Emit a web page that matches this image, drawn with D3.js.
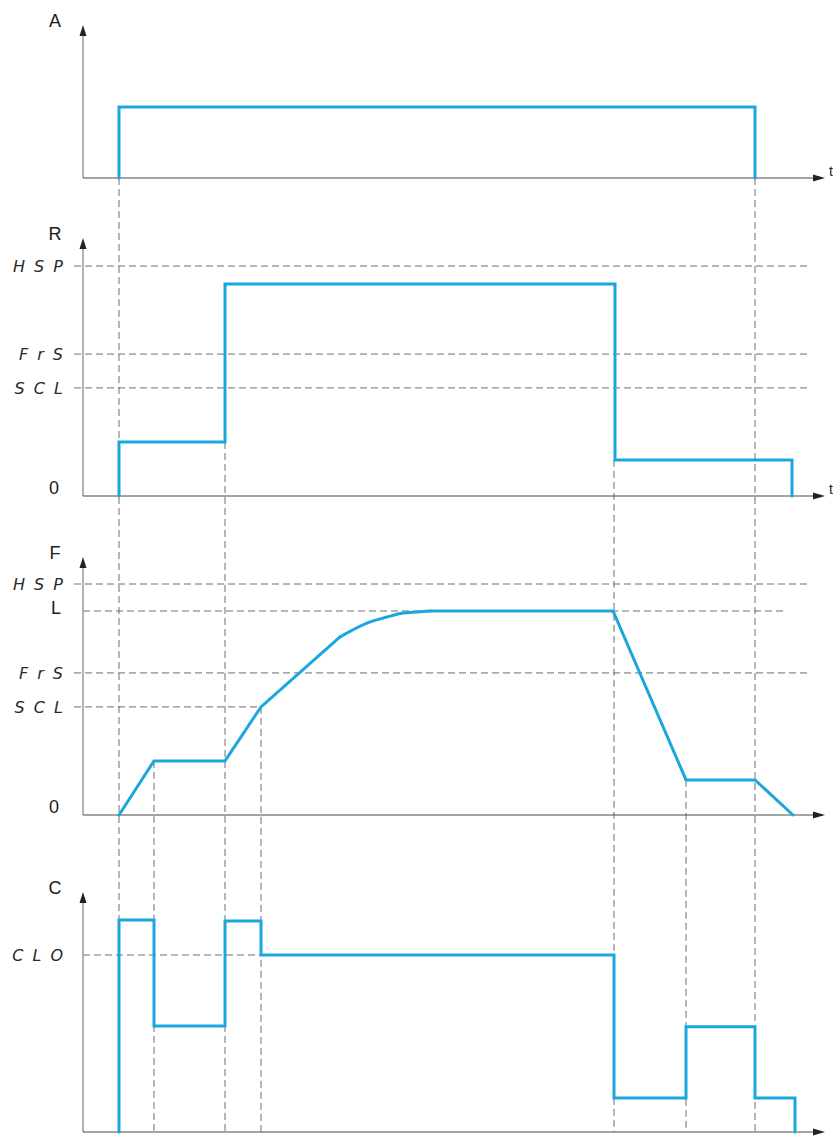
<!DOCTYPE html>
<html>
<head>
<meta charset="utf-8">
<script src="https://cdn.jsdelivr.net/npm/d3@7/dist/d3.min.js"></script>
<style>
  html, body { margin: 0; padding: 0; background: #fff; }
  svg { display: block; }
  .axis-name { font-family: "Liberation Sans", Arial, sans-serif; font-size: 18px; fill: #1a1a1a; }
  .seg { font-family: "DejaVu Sans", sans-serif; font-style: italic; font-size: 16px; fill: #2a2a2a; letter-spacing: 2px; }
</style>
</head>
<body>
<script>
// ---- Time axis (common to all four traces), arbitrary units ----
const timeMax = 74;

// A : run command
const aTime  = [3.6, 3.6, 67.2, 67.2];
const aValue = [0, 1, 1, 0];

// R : speed reference
const rTime  = [3.6, 3.6, 14.2, 14.2, 53.2, 53.2, 70.9, 70.9];
const rValue = [0, 23.5, 23.5, 92.2, 92.2, 15.7, 15.7, 0];
const rLevelNames  = ["H S P", "F r S", "S C L"];
const rLevelValues = [100, 61.7, 47];

// F : output frequency (ramp, rounded approach to L, plateau, decel)
const fTime  = [3.6, 7.1, 14.2, 17.8, 25.7, 28.4, 30.4, 32.0, 33.4, 34.7, 53.0, 60.3, 67.2, 71.0];
const fValue = [0, 23.4, 23.4, 46.8, 77.1, 83.1, 85.7, 87.4, 87.9, 88.3, 88.3, 15.2, 15.2, 0];
const fBendStart = 4, fBendEnd = 9;   // indices of the rounded section
const fLevelNames  = ["H S P", "L", "F r S", "S C L"];
const fLevelValues = [100, 88.3, 61.5, 46.8];

// C : motor current
const cTime  = [3.6, 3.6, 7.1, 7.1, 14.2, 14.2, 17.8, 17.8, 53.1, 53.1, 60.3, 60.3, 67.2, 67.2, 71.2, 71.2];
const cValue = [0, 119.8, 119.8, 59.9, 59.9, 119.2, 119.2, 100, 100, 19.2, 19.2, 59.5, 59.5, 19.2, 19.2, 0];
const cLevelNames  = ["C L O"];
const cLevelValues = [100];

// vertical guide lines: time, trace and value where they start
const guideTime   = [3.6, 7.1, 14.2, 17.8, 53.1, 60.3, 67.2];
const guideTrace  = ["A", "F", "R", "F", "R", "F", "A"];
const guideValue  = [0, 23.4, 23.5, 46.8, 15.7, 15.2, 0];

const W = 833, H = 1137;
const blue = "#1aa7dd";
const svg = d3.select("body").append("svg").attr("width", W).attr("height", H);

const x = d3.scaleLinear().domain([0, timeMax]).range([83, 823]);

// one y scale per trace
const panels = {
  A: { name: "A", y: d3.scaleLinear().domain([0, 1]).range([178, 107]),   top: 25,  t: true,  levels: [], names: [] },
  R: { name: "R", y: d3.scaleLinear().domain([0, 100]).range([496, 266]), top: 238, t: true,  levels: rLevelValues, names: rLevelNames },
  F: { name: "F", y: d3.scaleLinear().domain([0, 100]).range([815, 584]), top: 557, t: false, levels: fLevelValues, names: fLevelNames },
  C: { name: "C", y: d3.scaleLinear().domain([0, 100]).range([1132, 955]), top: 892, t: false, levels: cLevelValues, names: cLevelNames }
};

const gGuides = svg.append("g");
const gAxes = svg.append("g");
const gSignals = svg.append("g");

// vertical dashed guides down to the bottom trace baseline
guideTime.forEach((t, i) => {
  gGuides.append("line")
    .attr("x1", x(t)).attr("x2", x(t))
    .attr("y1", panels[guideTrace[i]].y(guideValue[i]))
    .attr("y2", panels.C.y(0))
    .attr("stroke", "#6e6e6e").attr("stroke-width", 1)
    .attr("stroke-dasharray", "7,4");
});

function hDash(x1, x2, yv) {
  gGuides.append("line")
    .attr("x1", x1).attr("x2", x2).attr("y1", yv).attr("y2", yv)
    .attr("stroke", "#6e6e6e").attr("stroke-width", 1)
    .attr("stroke-dasharray", "7,4");
}

// level lines and their names
Object.values(panels).forEach(p => {
  p.levels.forEach((v, i) => {
    const nm = p.names[i];
    const yy = p.y(v);
    let x1 = 74, x2 = 808;
    if (nm === "L") { x1 = 83; x2 = 785; }
    if (p.name === "F" && nm === "S C L") { x2 = x(17.8); }
    if (nm === "C L O") { x1 = 83; x2 = x(53.1); }
    hDash(x1, x2, yy);
    if (nm === "L") {
      svg.append("text").attr("class", "axis-name")
        .attr("x", 56).attr("y", yy + 3).attr("text-anchor", "middle").text(nm);
    } else {
      svg.append("text").attr("class", "seg")
        .attr("x", 65).attr("y", yy + 6).attr("text-anchor", "end").text(nm);
    }
  });
});

// axes with arrowheads
Object.values(panels).forEach(p => {
  const y0 = p.y(0);
  gAxes.append("line").attr("x1", 83).attr("x2", 83).attr("y1", y0).attr("y2", p.top + 8)
    .attr("stroke", "#8a8a8a").attr("stroke-width", 1.3);
  gAxes.append("path")
    .attr("d", `M83,${p.top} L79.5,${p.top + 11} L86.5,${p.top + 11} Z`)
    .attr("fill", "#222");
  gAxes.append("line").attr("x1", 83).attr("x2", 816).attr("y1", y0).attr("y2", y0)
    .attr("stroke", "#4a4a4a").attr("stroke-width", 1.2);
  gAxes.append("path")
    .attr("d", `M825,${y0} L813,${y0 - 3.5} L813,${y0 + 3.5} Z`)
    .attr("fill", "#222");
  svg.append("text").attr("class", "axis-name")
    .attr("x", 55).attr("y", p.top + 2).attr("text-anchor", "middle").text(p.name);
  if (p.t) {
    svg.append("text").attr("font-family", "Liberation Sans, Arial, sans-serif")
      .attr("font-size", 14).attr("fill", "#222")
      .attr("x", 829).attr("y", y0 - 2).text("t");
  }
});

// zero labels for R and F
["R", "F"].forEach(k => {
  svg.append("text").attr("class", "axis-name")
    .attr("x", 54).attr("y", panels[k].y(0) - 2).attr("text-anchor", "middle").text("0");
});

// signal traces
function trace(times, values, p, curve) {
  const line = d3.line().curve(curve || d3.curveLinear)
    .x(d => x(d[0])).y(d => p.y(d[1]));
  gSignals.append("path")
    .attr("d", line(times.map((t, i) => [t, values[i]])))
    .attr("fill", "none").attr("stroke", blue).attr("stroke-width", 3)
    .attr("stroke-linejoin", "miter").attr("stroke-linecap", "round");
}
trace(aTime, aValue, panels.A);
trace(rTime, rValue, panels.R);
// F: straight pieces plus a smooth rounded section
trace(fTime.slice(0, fBendStart + 1), fValue.slice(0, fBendStart + 1), panels.F);
trace(fTime.slice(fBendStart, fBendEnd + 1), fValue.slice(fBendStart, fBendEnd + 1), panels.F, d3.curveMonotoneX);
trace(fTime.slice(fBendEnd), fValue.slice(fBendEnd), panels.F);
trace(cTime, cValue, panels.C);
</script>
</body>
</html>
